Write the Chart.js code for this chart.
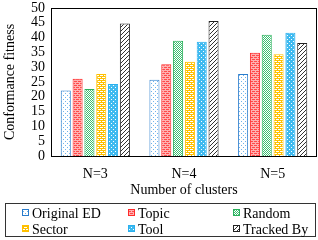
<!DOCTYPE html>
<html>
<head>
<meta charset="utf-8">
<script src="https://cdn.jsdelivr.net/npm/chart.js@4.4.1/dist/chart.umd.min.js"></script>
<style>
  html, body { margin: 0; padding: 0; background: #fff; }
  #wrap { width: 318px; height: 240px; }
</style>
</head>
<body>
<div id="wrap"><canvas id="barChart" width="318" height="240"></canvas></div>
<script>
const categories = ['N=3', 'N=4', 'N=5'];
const seriesNames = ['Original ED', 'Topic', 'Random', 'Sector', 'Tool', 'Tracked By'];
const originalED = [22.1, 25.8, 27.7];
const topic = [26.1, 31, 34.9];
const random = [22.6, 38.9, 41];
const sector = [27.7, 31.8, 34.4];
const tool = [24.3, 38.6, 41.6];
const trackedBy = [44.8, 45.6, 38.2];
const yTicks = [0, 5, 10, 15, 20, 25, 30, 35, 40, 45, 50];

// little tiles for the hatch fills
function makePattern(bg, fg, kind) {
  const c = document.createElement('canvas');
  c.width = 4; c.height = 4;
  const g = c.getContext('2d');
  g.fillStyle = bg;
  g.fillRect(0, 0, 4, 4);
  g.fillStyle = fg;
  if (kind === 'dots') {
    g.fillRect(1, 1, 1, 1);
    g.fillRect(3, 3, 1, 1);
  } else if (kind === 'brick') {
    g.fillRect(0, 0, 4, 1);
    g.fillRect(0, 2, 4, 1);
    g.fillRect(1, 1, 1, 1);
    g.fillRect(3, 3, 1, 1);
  } else if (kind === 'checker') {
    g.fillRect(0, 0, 1, 1);
    g.fillRect(2, 0, 1, 1);
    g.fillRect(1, 1, 1, 1);
    g.fillRect(3, 1, 1, 1);
    g.fillRect(0, 2, 1, 1);
    g.fillRect(2, 2, 1, 1);
    g.fillRect(1, 3, 1, 1);
    g.fillRect(3, 3, 1, 1);
  } else if (kind === 'diag') {
    g.fillRect(3, 0, 1, 1);
    g.fillRect(2, 1, 1, 1);
    g.fillRect(1, 2, 1, 1);
    g.fillRect(0, 3, 1, 1);
  }
  return g.createPattern(c, 'repeat');
}

const ctx = document.getElementById('barChart').getContext('2d');

const fills = [
  makePattern('#ffffff', '#6fb3ea', 'dots'),
  makePattern('#ff4a4a', '#ffb0b0', 'brick'),
  makePattern('#ffffff', '#3cbf72', 'checker'),
  makePattern('#ffffff', '#ffc000', 'brick'),
  makePattern('#3fbaf0', '#ffffff', 'dots'),
  makePattern('#ffffff', '#333333', 'diag'),
];
const borders = ['#2a7ccc', '#ff2a2a', '#2bb15c', '#ffc000', '#2ab0ee', '#222222'];
const values = [originalED, topic, random, sector, tool, trackedBy];

const datasets = seriesNames.map((name, i) => ({
  label: name,
  data: values[i],
  backgroundColor: fills[i],
  borderColor: borders[i],
  borderWidth: 1,
  barPercentage: 0.85,
  categoryPercentage: 0.8,
}));

const serif = '"Liberation Serif", "Times New Roman", "DejaVu Serif", serif';

// plot frame + legend box
const extras = {
  id: 'extras',
  afterDraw(chart) {
    const c = chart.ctx;
    const a = chart.chartArea;
    c.save();
    c.strokeStyle = '#000';
    c.lineWidth = 1;
    c.strokeRect(Math.round(a.left) + 0.5, Math.round(a.top) + 0.5,
      Math.round(a.right - a.left) - 1, Math.round(a.bottom - a.top));
    // legend
    c.strokeStyle = '#333';
    c.strokeRect(5.5, 203.5, 310, 33);
    const colX = [22, 128, 233];
    const rowY = [213, 229];
    c.font = '14px ' + serif;
    c.textBaseline = 'middle';
    c.fillStyle = '#000';
    seriesNames.forEach((name, i) => {
      const x = colX[i % 3], y = rowY[Math.floor(i / 3)];
      c.fillStyle = fills[i];
      c.fillRect(x, y - 4, 7, 7);
      c.strokeStyle = borders[i];
      c.strokeRect(x + 0.5, y - 3.5, 6, 6);
      c.fillStyle = '#000';
      c.fillText(name, x + 10, y + 1);
    });
    c.restore();
  }
};

new Chart(ctx, {
  type: 'bar',
  data: { labels: categories, datasets: datasets },
  options: {
    responsive: false,
    animation: false,
    layout: { padding: { top: 8, right: 1, bottom: 41, left: 0 } },
    plugins: {
      legend: { display: false },
      tooltip: { enabled: false },
    },
    scales: {
      x: {
        afterFit(axis) { axis.height = 43; },
        grid: { display: false, drawTicks: false },
        border: { display: false },
        ticks: { color: '#000', font: { family: serif, size: 14 }, padding: 10 },
        title: { display: true, text: 'Number of clusters', color: '#000',
                 font: { family: serif, size: 14 }, padding: { top: 0, bottom: 0 } },
      },
      y: {
        min: 0,
        max: 50,
        afterBuildTicks(axis) { axis.ticks = yTicks.map(v => ({ value: v })); },
        afterFit(axis) { axis.width = 51; axis.paddingTop = 0; axis.paddingBottom = 0; },
        grid: { display: false, drawTicks: false },
        border: { display: false },
        ticks: { color: '#000', font: { family: serif, size: 14 }, padding: 6, autoSkip: false },
        title: { display: true, text: 'Conformance fitness', color: '#000',
                 font: { family: serif, size: 14 }, padding: { top: 2, bottom: 0 } },
      },
    },
  },
  plugins: [extras],
});
</script>
</body>
</html>
